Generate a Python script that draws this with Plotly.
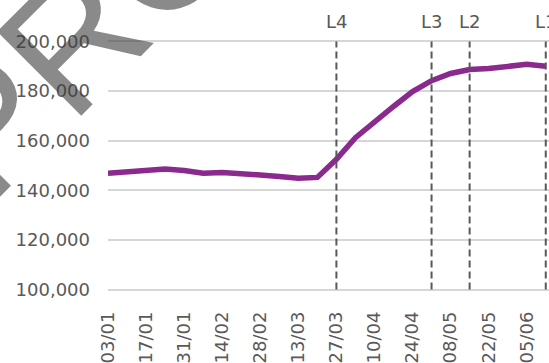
import plotly.graph_objects as go

# Weekly series (week ending dates, 2020)
weeks = ["03/01", "10/01", "17/01", "24/01", "31/01", "07/02", "14/02", "21/02",
         "28/02", "06/03", "13/03", "20/03", "27/03", "03/04", "10/04", "17/04",
         "24/04", "01/05", "08/05", "15/05", "22/05", "29/05", "05/06", "12/06"]
recipients = [146900, 147300, 148200, 148600, 148000, 146900, 147200, 146900,
              146200, 145600, 144900, 145200, 152500, 161200, 167800, 173800,
              179800, 184200, 187100, 188700, 189100, 189700, 190800, 190000]

# Alert level changes
level_labels = ["L4", "L3", "L2", "L1"]
level_weeks = ["27/03", "01/05", "15/05", "12/06"]

tick_labels = weeks[::2]
y_ticks = [100000, 120000, 140000, 160000, 180000, 200000]

FONT = "DejaVu Sans"
GREY = "#595959"

# plot area in pixels
L, T, W, H = 108, 39, 441, 255

fig = go.Figure()
fig.add_trace(go.Scatter(
    x=weeks, y=recipients, mode="lines",
    line=dict(color="#8B2A8E", width=5.5),
    hoverinfo="skip", showlegend=False,
))

shapes = []
annotations = []
for lab, wk in zip(level_labels, level_weeks):
    xi = weeks.index(wk)
    shapes.append(dict(type="line", xref="x", yref="y", x0=xi, x1=xi,
                       y0=100000, y1=200000,
                       line=dict(color=GREY, width=2, dash="7px,4px")))
    annotations.append(dict(x=xi, y=1.07, xref="x", yref="paper", text=lab,
                            showarrow=False, xanchor="center", yanchor="middle",
                            font=dict(family=FONT, size=18, color=GREY)))

# Diagonal watermark (centre given in page pixels)
wm_cx, wm_cy = 713, -606
annotations.append(dict(
    x=(wm_cx - L) / W, y=(T + H - wm_cy) / H, xref="paper", yref="paper",
    text="PROACTIVELY RELEASED", showarrow=False, textangle=-45,
    xanchor="center", yanchor="middle",
    font=dict(family="Liberation Sans", size=173, color="rgba(60,60,60,0.6)"),
))

fig.update_layout(
    width=549, height=363,
    margin=dict(l=L, r=549 - L - W, t=T, b=363 - T - H),
    paper_bgcolor="white", plot_bgcolor="white",
    shapes=shapes, annotations=annotations,
    xaxis=dict(type="category", categoryorder="array", categoryarray=weeks,
               range=[0, 23.17], tickmode="array", tickvals=tick_labels,
               ticktext=tick_labels, tickangle=-90, showgrid=False,
               zeroline=False, showline=False, ticks="",
               ticklabelstandoff=15,
               tickfont=dict(family=FONT, size=18, color=GREY)),
    yaxis=dict(range=[99000, 201000], tickmode="array", tickvals=y_ticks,
               tickformat=",d", showgrid=True, gridcolor="#D6D6D6", gridwidth=1.5,
               zeroline=False, showline=False, ticks="",
               ticklabelstandoff=17,
               tickfont=dict(family=FONT, size=18, color=GREY)),
)

fig.write_html("out.html")
